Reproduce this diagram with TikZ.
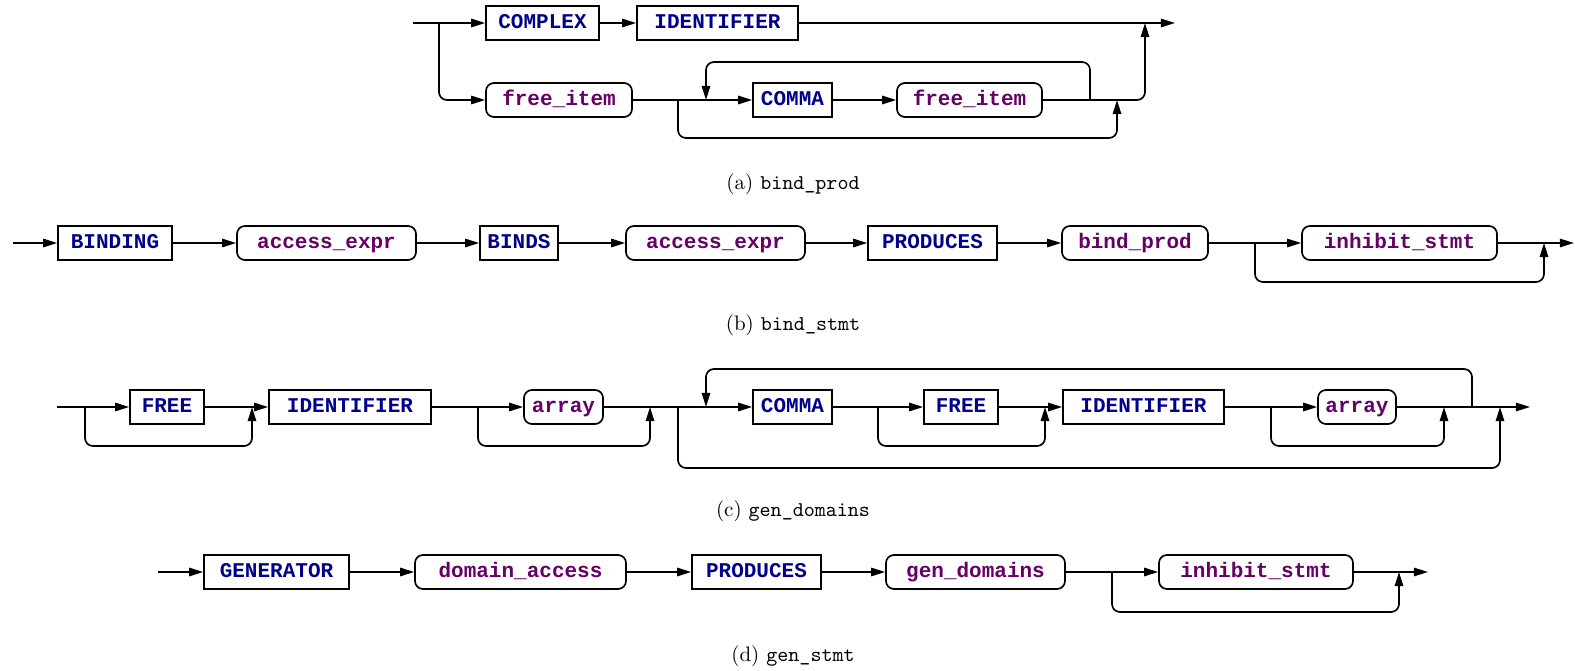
\documentclass[tikz,border=0pt]{standalone}
\usepackage{fontspec}
\newfontfamily\railfont{Liberation Mono}
\usetikzlibrary{arrows.meta}
\definecolor{termcol}{RGB}{0,0,139}
\definecolor{ntcol}{RGB}{102,0,102}
\def\pxu{0.476pt}

\begin{document}
\begin{tikzpicture}[x=0.476pt, y=-0.476pt,
  rail/.style={line width=0.8pt, rounded corners=3.8pt},
  arr/.style={rail, -{Triangle[length=6.7pt,width=4pt]}},
  term/.style={draw, line width=0.8pt, minimum height=34*\pxu, inner sep=0pt,
    text height=5.5pt, text depth=0.7pt, font=\railfont\bfseries, text=termcol},
  nonterm/.style={term, rounded corners=3.8pt, text=ntcol},
  caption/.style={font=\normalsize}]
\useasboundingbox (0,0) rectangle (1575,671);

% ---------- (a) bind_prod ----------
\node[term, minimum width=113*\pxu] (complex) at (542.5,23) {COMPLEX};
\node[term, minimum width=161*\pxu] (ida) at (717.5,23) {IDENTIFIER};
\node[nonterm, minimum width=146*\pxu] (fia) at (559,100) {free\_item};
\node[term, minimum width=79*\pxu] (commaa) at (792.5,100) {COMMA};
\node[nonterm, minimum width=145*\pxu] (fib) at (969.5,100) {free\_item};
\coordinate (a0) at (413,23);
\coordinate (a1) at (439,23);
\coordinate (a2) at (1145,23);
\coordinate (aout) at (1175,23);
\coordinate (a4) at (678,100);
\coordinate (a5) at (1117,100);
\coordinate (a6) at (706,100);
\coordinate (a7) at (1090,100);
\draw[arr] (a0) -- (complex.west);
\draw[arr] (a1) |- (fia.west);
\draw[arr] (complex.east) -- (ida.west);
\draw[arr] (ida.east) -- (aout);
\draw[arr] (fia.east) -- (commaa.west);
\draw[arr] (a4) -- ++(0,38) -| (a5);
\draw[arr] (a7) -- ++(0,-38) -| (a6);
\draw[arr] (commaa.east) -- (fib.west);
\draw[arr] (fib.east) -| (a2);
\node[caption] (capa) at (793,184) {(a) \texttt{bind\_prod}};

% ---------- (b) bind_stmt ----------
\node[term, minimum width=114*\pxu] (binding) at (115,243) {BINDING};
\node[nonterm, minimum width=179*\pxu] (aea) at (326.5,243) {access\_expr};
\node[term, minimum width=78*\pxu] (binds) at (519,243) {BINDS};
\node[nonterm, minimum width=179*\pxu] (aeb) at (715.5,243) {access\_expr};
\node[term, minimum width=129*\pxu] (proda) at (932.5,243) {PRODUCES};
\node[nonterm, minimum width=146*\pxu] (bprod) at (1135,243) {bind\_prod};
\node[nonterm, minimum width=195*\pxu] (inha) at (1399.5,243) {inhibit\_stmt};
\coordinate (b0) at (13,243);
\coordinate (b1) at (1255,243);
\coordinate (b2) at (1544,243);
\coordinate (bout) at (1574,243);
\draw[arr] (b0) -- (binding.west);
\draw[arr] (binding.east) -- (aea.west);
\draw[arr] (aea.east) -- (binds.west);
\draw[arr] (binds.east) -- (aeb.west);
\draw[arr] (aeb.east) -- (proda.west);
\draw[arr] (proda.east) -- (bprod.west);
\draw[arr] (bprod.east) -- (inha.west);
\draw[arr] (b1) -- ++(0,39) -| (b2);
\draw[arr] (inha.east) -- (bout);
\node[caption] (capb) at (793,325) {(b) \texttt{bind\_stmt}};

% ---------- (c) gen_domains ----------
\node[term, minimum width=74*\pxu] (freea) at (167,407) {FREE};
\node[term, minimum width=162*\pxu] (idb) at (350,407) {IDENTIFIER};
\node[nonterm, minimum width=79*\pxu] (arra) at (563.5,407) {array};
\node[term, minimum width=79*\pxu] (commab) at (792.5,407) {COMMA};
\node[term, minimum width=74*\pxu] (freeb) at (961,407) {FREE};
\node[term, minimum width=161*\pxu] (idc) at (1143.5,407) {IDENTIFIER};
\node[nonterm, minimum width=78*\pxu] (arrb) at (1357,407) {array};
\coordinate (c0) at (57,407);
\coordinate (c1) at (85,407);
\coordinate (c2) at (252,407);
\coordinate (c3) at (478,407);
\coordinate (c4) at (650,407);
\coordinate (c5) at (678,407);
\coordinate (c6) at (1500,407);
\coordinate (c7) at (706,407);
\coordinate (c8) at (1472,407);
\coordinate (c9) at (878,407);
\coordinate (c10) at (1045,407);
\coordinate (c11) at (1271,407);
\coordinate (c12) at (1444,407);
\coordinate (cout) at (1530,407);
\draw[arr] (c0) -- (freea.west);
\draw[arr] (c1) -- ++(0,39) -| (c2);
\draw[arr] (freea.east) -- (idb.west);
\draw[arr] (idb.east) -- (arra.west);
\draw[arr] (c3) -- ++(0,39) -| (c4);
\draw[arr] (arra.east) -- (commab.west);
\draw[arr] (c5) -- ++(0,61) -| (c6);
\draw[arr] (c8) -- ++(0,-38) -| (c7);
\draw[arr] (commab.east) -- (freeb.west);
\draw[arr] (c9) -- ++(0,39) -| (c10);
\draw[arr] (freeb.east) -- (idc.west);
\draw[arr] (idc.east) -- (arrb.west);
\draw[arr] (c11) -- ++(0,39) -| (c12);
\draw[arr] (arrb.east) -- (cout);
\node[caption] (capc) at (793,511) {(c) \texttt{gen\_domains}};

% ---------- (d) gen_stmt ----------
\node[term, minimum width=145*\pxu] (gen) at (276.5,572) {GENERATOR};
\node[nonterm, minimum width=211*\pxu] (dacc) at (520.5,572) {domain\_access};
\node[term, minimum width=129*\pxu] (prodb) at (756.5,572) {PRODUCES};
\node[nonterm, minimum width=179*\pxu] (gdom) at (975.5,572) {gen\_domains};
\node[nonterm, minimum width=194*\pxu] (inhb) at (1256,572) {inhibit\_stmt};
\coordinate (d0) at (158,572);
\coordinate (d1) at (1112,572);
\coordinate (d2) at (1399,572);
\coordinate (dout) at (1428,572);
\draw[arr] (d0) -- (gen.west);
\draw[arr] (gen.east) -- (dacc.west);
\draw[arr] (dacc.east) -- (prodb.west);
\draw[arr] (prodb.east) -- (gdom.west);
\draw[arr] (gdom.east) -- (inhb.west);
\draw[arr] (d1) -- ++(0,40) -| (d2);
\draw[arr] (inhb.east) -- (dout);
\node[caption] (capd) at (793,656) {(d) \texttt{gen\_stmt}};
\end{tikzpicture}
\end{document}
